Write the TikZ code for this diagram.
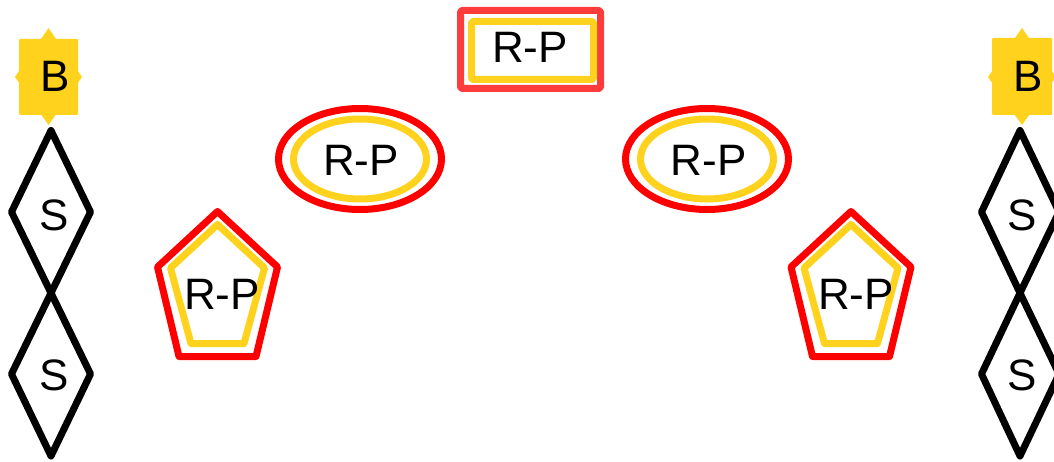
\documentclass[tikz,border=0pt]{standalone}
\usepackage{fontspec}
\setmainfont{Liberation Sans}
\definecolor{rpred}{RGB}{255,0,0}
\definecolor{rplight}{RGB}{255,60,60}
\definecolor{rpyel}{RGB}{255,210,30}
\begin{document}
\begin{tikzpicture}[x=1pt,y=-1pt,line join=round,
  lbl/.style={inner sep=0pt,font=\fontsize{44}{44}\selectfont},
  redline/.style={draw=rpred,line width=7pt},
  lightline/.style={draw=rplight,line width=7pt},
  yelline/.style={draw=rpyel,line width=7pt},
  blkline/.style={draw=black,line width=7pt},
  badge/.style={fill=rpyel}]
\useasboundingbox (0,0) rectangle (1054,462);
\clip (0,0) rectangle (1054,462);
% top rectangle
\draw[lightline,rounded corners=2pt] (460.5,10.5) rectangle (600.5,88.5);
\draw[yelline,rounded corners=2pt] (471.5,21.5) rectangle (593.5,79.5);
\node[lbl] (top) at (530,47.5) {R-P};
% ellipses
\draw[redline] (360,159) ellipse [x radius=81.5,y radius=50.5];
\draw[yelline] (360,159) ellipse [x radius=66.5,y radius=40];
\node[lbl] (ell1) at (361,160) {R-P};
\draw[redline] (707,159) ellipse [x radius=81.5,y radius=50.5];
\draw[yelline] (707,159) ellipse [x radius=66.5,y radius=40];
\node[lbl] (ell2) at (708.5,160) {R-P};
% pentagons
\draw[redline] (217.5,211.5) -- (277.5,267) -- (256,356.5) -- (179,356.5) -- (157.5,267) -- cycle;
\draw[yelline] (217.5,224.5) -- (264.5,268) -- (244,343.5) -- (191,343.5) -- (170.5,268) -- cycle;
\node[lbl] (pen1) at (222,294) {R-P};
\draw[redline] (851,211.5) -- (911,267) -- (889.5,356.5) -- (812.5,356.5) -- (791,267) -- cycle;
\draw[yelline] (851,224.5) -- (898,268) -- (877.5,343.5) -- (824.5,343.5) -- (804,268) -- cycle;
\node[lbl] (pen2) at (856,294) {R-P};
% badges
\fill[badge,rounded corners=1pt] (19,39) rectangle (78,115);
\fill[badge] (48.5,28) -- (82,77) -- (48.5,125) -- (15,77) -- cycle;
\node[lbl] (b1) at (55,76.5) {B};
\fill[badge,rounded corners=1pt] (992,38) rectangle (1052,115);
\fill[badge] (1022,28) -- (1056,77) -- (1022,125) -- (988,77) -- cycle;
\node[lbl] (b2) at (1028,76.5) {B};
% diamonds
\draw[blkline] (51,130.5) -- (90.5,212) -- (51,293) -- (11.5,212) -- cycle;
\draw[blkline] (51,293) -- (90.5,374) -- (51,456) -- (11.5,374) -- cycle;
\node[lbl] (s1) at (54,215.5) {S};
\node[lbl] (s2) at (54,375) {S};
\draw[blkline] (1020,130.5) -- (1059,212) -- (1020,293) -- (981.5,212) -- cycle;
\draw[blkline] (1020,293) -- (1059,374) -- (1020,456) -- (981.5,374) -- cycle;
\node[lbl] (s3) at (1022,215.5) {S};
\node[lbl] (s4) at (1022,375) {S};
\end{tikzpicture}
\end{document}
